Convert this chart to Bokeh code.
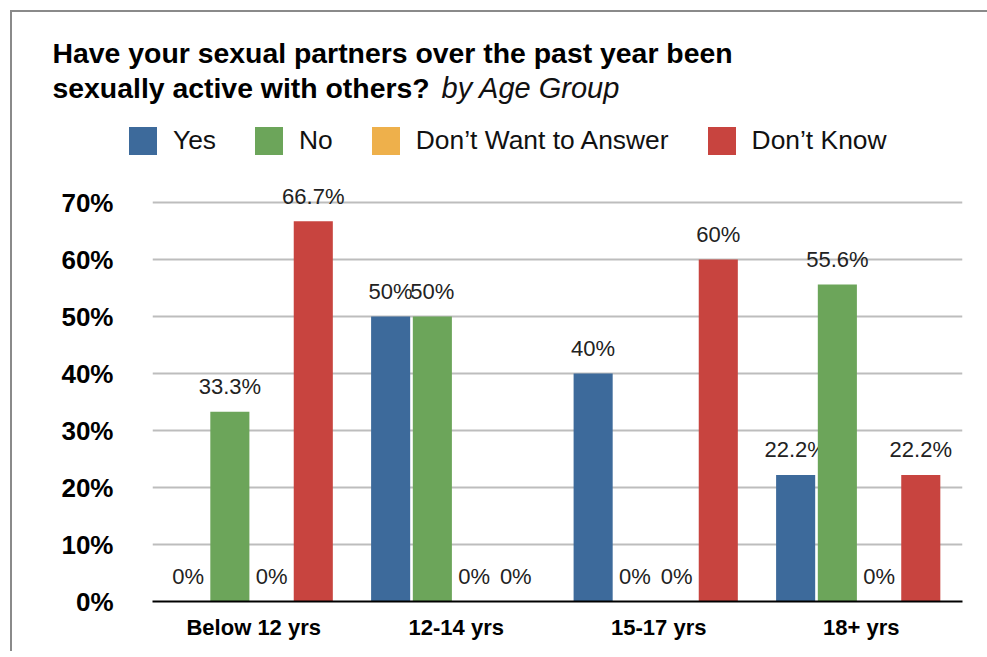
from bokeh.plotting import figure
from bokeh.layouts import column
from bokeh.models import ColumnDataSource, FactorRange, Range1d, Legend, LegendItem, Label
from bokeh.transform import dodge
from bokeh.core.properties import value
from bokeh.embed import file_html
from bokeh.resources import INLINE

# ---------------- data ----------------
age_groups = ["Below 12 yrs", "12-14 yrs", "15-17 yrs", "18+ yrs"]
series_names = ["Yes", "No", "Don\u2019t Want to Answer", "Don\u2019t Know"]
yes_values = [0, 50, 40, 22.2]
no_values = [33.3, 50, 0, 55.6]
dont_want_values = [0, 0, 0, 0]
dont_know_values = [66.7, 0, 60, 22.2]
y_ticks = [0, 10, 20, 30, 40, 50, 60, 70]
y_tick_labels = ["0%", "10%", "20%", "30%", "40%", "50%", "60%", "70%"]
title_line1 = "Have your sexual partners over the past year been"
title_line2 = "sexually active with others?"
title_sub = "by Age Group"

series_values = [yes_values, no_values, dont_want_values, dont_know_values]
colors = ["#3d6a9b", "#6ca55a", "#eeb04b", "#c8443f"]
offsets = [-0.324, -0.118, 0.088, 0.294]
FONT = "Liberation Sans"
W = 982
H_HEAD = 158
H_MAIN = 483


def fmt(v):
    return f"{v:g}%"


def no_align(fig):
    try:
        fig.frame_align = False
    except Exception:
        pass


# ---------------- header (title + legend) ----------------
head = figure(width=W, height=H_HEAD, x_range=Range1d(0, W), y_range=Range1d(0, H_HEAD),
              x_axis_location=None, y_axis_location=None,
              output_backend="svg", toolbar_location=None,
              min_border_left=0, min_border_right=0, min_border_top=0, min_border_bottom=0)
no_align(head)
head.outline_line_color = None
head.xgrid.visible = False
head.ygrid.visible = False

head.add_layout(Label(x=40, y=118, x_units="screen", y_units="screen", text=title_line1,
                      text_font=FONT, text_font_size="28.4px", text_font_style="bold",
                      text_color="#000000", text_baseline="alphabetic"))
head.add_layout(Label(x=40, y=83, x_units="screen", y_units="screen", text=title_line2,
                      text_font=FONT, text_font_size="28.4px", text_font_style="bold",
                      text_color="#000000", text_baseline="alphabetic"))
head.add_layout(Label(x=429, y=83, x_units="screen", y_units="screen", text=title_sub,
                      text_font=FONT, text_font_size="29px", text_font_style="italic",
                      text_color="#111111", text_baseline="alphabetic"))

legend_items = []
for name, vals, col in zip(series_names, series_values, colors):
    # invisible proxy renderers, only used to draw the legend swatches
    lr = head.vbar(x=list(range(len(vals))), top=vals, width=0.5,
                   fill_color=col, line_color=None, visible=False)
    legend_items.append(LegendItem(label=name, renderers=[lr]))
legend = Legend(items=legend_items, location=(113, 12), orientation="horizontal",
                glyph_width=35, glyph_height=35, label_standoff=13, spacing=35,
                padding=0, margin=0, border_line_color=None, background_fill_alpha=0,
                label_text_font=FONT, label_text_font_size="26.4px",
                label_text_color="#111111", click_policy="none")
head.add_layout(legend)

# ---------------- main chart ----------------
p = figure(
    x_range=FactorRange(factors=age_groups, range_padding=0),
    y_range=Range1d(0, 74.74),
    width=W, height=H_MAIN,
    output_backend="svg", toolbar_location=None,
    min_border_left=140, min_border_right=W - 950,
    min_border_top=5, min_border_bottom=H_MAIN - 431,
)
no_align(p)
p.outline_line_color = None

for name, vals, col, off in zip(series_names, series_values, colors, offsets):
    src = ColumnDataSource(dict(cat=age_groups, val=vals, lab=[fmt(v) for v in vals]))
    p.vbar(x=dodge("cat", off, range=p.x_range), top="val", width=0.193,
           source=src, fill_color=col, line_color=None)
    p.text(x=dodge("cat", off, range=p.x_range), y="val", text="lab", source=src,
           text_align="center", text_baseline="alphabetic", y_offset=-25,
           text_font=value(FONT), text_font_size="22px", text_color="#222222")

p.xgrid.visible = False
p.ygrid.grid_line_color = "#bdbdbd"
p.ygrid.grid_line_width = 2
p.yaxis.ticker = y_ticks
p.yaxis.major_label_overrides = {t: l for t, l in zip(y_ticks, y_tick_labels)}
p.yaxis.axis_line_color = None
p.yaxis.major_tick_line_color = None
p.yaxis.minor_tick_line_color = None
p.yaxis.major_tick_out = 0
p.yaxis.major_label_standoff = 39
p.yaxis.major_label_text_font = FONT
p.yaxis.major_label_text_font_size = "26px"
p.yaxis.major_label_text_font_style = "bold"
p.yaxis.major_label_text_color = "#000000"

p.xaxis.axis_line_color = "#000000"
p.xaxis.axis_line_width = 2
p.xaxis.major_tick_line_color = None
p.xaxis.minor_tick_line_color = None
p.xaxis.major_label_standoff = 7
p.xaxis.major_label_text_font = FONT
p.xaxis.major_label_text_font_size = "22px"
p.xaxis.major_label_text_font_style = "bold"
p.xaxis.major_label_text_color = "#000000"

page = column(head, p, spacing=0)
page.styles = {"margin-left": "12px", "margin-top": "12px", "vertical-align": "top",
               "box-shadow": "-2px -2px 0px 0px #8a8a8a"}

open("out.html", "w").write(file_html(page, INLINE))
